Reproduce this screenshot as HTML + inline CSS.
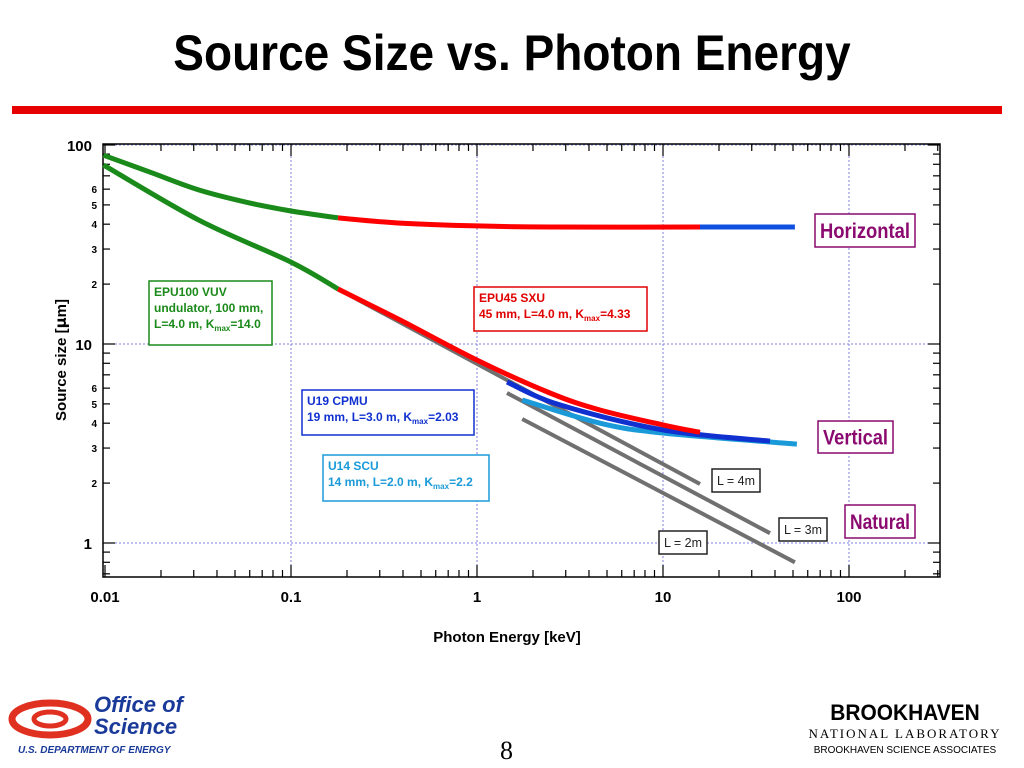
<!DOCTYPE html>
<html><head><meta charset="utf-8">
<style>
body{margin:0;width:1024px;height:768px;background:#fff;overflow:hidden;font-family:"Liberation Sans",sans-serif;position:relative}
.title{position:absolute;left:0;width:1024px;top:24px;text-align:center;font-weight:bold;font-size:50px;color:#000;transform:scaleX(0.92);transform-origin:512px 0}
.bar{position:absolute;left:12px;top:106px;width:990px;height:8px;background:#e60000}
</style></head><body>
<div class="title">Source Size vs. Photon Energy</div>
<div class="bar"></div>
<svg id="chart" width="1024" height="768" style="position:absolute;left:0;top:0"></svg>
<script>
const horizGreen=[[0.0098,88.9],[0.0175,73],[0.032,59.4],[0.0606,51],[0.1,46.6],[0.179,43]];
const horizRed=[[0.179,43],[0.386,40.5],[1,39.2],[2.47,38.7],[15.8,38.7]];
const horizBlue=[[15.8,38.7],[51.2,38.7]];
const vertGreen=[[0.0098,79.4],[0.032,41.9],[0.1,25.8],[0.179,18.9]];
const vertRed=[[0.179,18.9],[0.386,13.2],[1,8.3],[2.47,5.67],[4.58,4.66],[10,3.92],[15.8,3.6]];
const vertBlue=[[1.45,6.44],[2.79,4.94],[10,3.7],[37.6,3.25]];
const vertCyan=[[1.75,5.23],[4.58,4.0],[10,3.57],[52.5,3.14]];
const nat4=[[0.179,18.9],[15.8,1.98]];
const nat3=[[1.45,5.67],[37.6,1.12]];
const nat2=[[1.75,4.2],[51.2,0.8]];
const xTicks=[0.01,0.1,1,10,100];
const xTickLabels=["0.01","0.1","1","10","100"];
const yMajor=[1,10,100];
const yMinorLabels=[2,3,4,5,6];

const svg=document.getElementById('chart');
const NS='http://www.w3.org/2000/svg';
const X0=103,X1=940,Y0=144,Y1=577;
function xs(e){return 291+186*(Math.log10(e)+1);}
function ys(s){return 543-199*Math.log10(s);}
function mk(t,a,p){const el=document.createElementNS(NS,t);for(const k in a)el.setAttribute(k,a[k]);(p||svg).appendChild(el);return el;}

xTicks.forEach(v=>{const x=xs(v);if(x>X0+2){const g=mk('line',{x1:x,x2:x,y1:Y0,y2:Y1,stroke:'#8080e0','stroke-dasharray':'2,2','stroke-width':1});

}});
yMajor.forEach(v=>{const y=ys(v);const g=mk('line',{x1:X0,x2:X1,y1:y,y2:y,stroke:'#8080e0','stroke-dasharray':'2,2','stroke-width':1});

});
const fr=mk('rect',{x:X0,y:Y0,width:X1-X0,height:Y1-Y0,fill:'none',stroke:'#000','stroke-width':1.5});


for(let d=-2;d<=2;d++){for(let m=1;m<10;m++){const v=m*Math.pow(10,d);const x=xs(v);if(x<X0||x>X1)continue;const L=m==1?12:7;
mk('line',{x1:x,x2:x,y1:Y1,y2:Y1-L,stroke:'#000','stroke-width':1.2});mk('line',{x1:x,x2:x,y1:Y0,y2:Y0+L,stroke:'#000','stroke-width':1.2});}}
for(let d=-1;d<=2;d++){for(let m=1;m<10;m++){const v=m*Math.pow(10,d);const y=ys(v);if(y<Y0-1||y>Y1)continue;const L=m==1?12:7;
mk('line',{x1:X0,x2:X0+L,y1:y,y2:y,stroke:'#000','stroke-width':1.2});mk('line',{x1:X1,x2:X1-L,y1:y,y2:y,stroke:'#000','stroke-width':1.2});}}
xTicks.forEach((v,i)=>{const t=mk('text',{x:xs(v),y:602,'text-anchor':'middle','font-size':15,'font-weight':'bold'});t.textContent=xTickLabels[i];

});
yMajor.forEach(v=>{const t=mk('text',{x:92,y:ys(v)+6,'text-anchor':'end','font-size':15,'font-weight':'bold'});t.textContent=String(v);

});
[1,10].forEach(d=>yMinorLabels.forEach(m=>{const t=mk('text',{x:97,y:ys(m*d)+4,'text-anchor':'end','font-size':10,'font-weight':'bold'});t.textContent=String(m);

}));
const xt=mk('text',{x:507,y:642,'text-anchor':'middle','font-size':15,'font-weight':'bold'});xt.textContent='Photon Energy [keV]';


const yt=mk('text',{x:0,y:0,'text-anchor':'middle','font-size':15,'font-weight':'bold',transform:'translate(66,360) rotate(-90)'});yt.innerHTML='Source size [<tspan font-family="DejaVu Sans">μ</tspan>m]';



function curve(data,color,w,name){const P=data.map(p=>[xs(p[0]),ys(p[1])]);let d='M'+P[0][0].toFixed(1)+','+P[0][1].toFixed(1);
for(let i=0;i<P.length-1;i++){const p0=P[Math.max(0,i-1)],p1=P[i],p2=P[i+1],p3=P[Math.min(P.length-1,i+2)];
const c1=[p1[0]+(p2[0]-p0[0])/6,p1[1]+(p2[1]-p0[1])/6],c2=[p2[0]-(p3[0]-p1[0])/6,p2[1]-(p3[1]-p1[1])/6];
d+='C'+c1.map(v=>v.toFixed(1)).join(',')+' '+c2.map(v=>v.toFixed(1)).join(',')+' '+p2.map(v=>v.toFixed(1)).join(',');}
const el=mk('path',{d:d,fill:'none',stroke:color,'stroke-width':w,'stroke-linecap':'butt','stroke-linejoin':'round'});

}
curve(nat4,'#707070',4,'natural-l4m-line');
curve(nat3,'#707070',4,'natural-l3m-line');
curve(nat2,'#707070',4,'natural-l2m-line');
curve(vertCyan,'#1a9ad8',5,'u14-vertical-curve');
curve(vertBlue,'#1030d0',5,'u19-vertical-curve');
curve(horizGreen,'#1a8a1a',5,'epu100-horizontal-curve');
curve(horizRed,'#ff0000',5,'epu45-horizontal-curve');
curve(horizBlue,'#1050e0',5,'u19-horizontal-curve');
curve(vertGreen,'#1a8a1a',5,'epu100-vertical-curve');
curve(vertRed,'#ff0000',5,'epu45-vertical-curve');

function box(x,y,w,h,color,lines,fs,name,sw){const g=mk('g',{});


mk('rect',{x:x,y:y,width:w,height:h,fill:'#fff',stroke:color,'stroke-width':sw||1.5},g);
lines.forEach((l,i)=>{const t=mk('text',{x:x+5,y:y+fs+3+i*(fs+4),'font-size':fs,'font-weight':'bold',fill:color},g);t.innerHTML=l;});}
const K='K<tspan font-size="8" dy="3">max</tspan><tspan dy="-3">';
box(149,281,123,64,'#1a8a1a',['EPU100 VUV','undulator, 100 mm,','L=4.0 m, '+K+'=14.0</tspan>'],12,'epu100-label');
box(474,287,173,44,'#e00000',['EPU45 SXU','45 mm, L=4.0 m, '+K+'=4.33</tspan>'],12,'epu45-label');
box(302,390,172,45,'#1030d0',['U19 CPMU','19 mm, L=3.0 m, '+K+'=2.03</tspan>'],12,'u19-label');
box(323,455,166,46,'#1a9ad8',['U14 SCU','14 mm, L=2.0 m, '+K+'=2.2</tspan>'],12,'u14-label');
function tag(x,y,w,h,txt,color,fs,name){const g=mk('g',{});


mk('rect',{x:x,y:y,width:w,height:h,fill:'#fff',stroke:color,'stroke-width':1.5},g);
const t=mk('text',{x:x+w/2,y:y+h/2+fs*0.36,'text-anchor':'middle','font-size':fs,'font-weight':fs>15?'bold':'normal',fill:color,textLength:w-10,lengthAdjust:'spacingAndGlyphs'},g);t.textContent=txt;}
tag(815,214,100,33,'Horizontal','#8a0a70',21,'horizontal-label');
tag(818,421,75,32,'Vertical','#8a0a70',21,'vertical-label');
tag(845,505,70,33,'Natural','#8a0a70',21,'natural-label');
tag(712,469,48,23,'L = 4m','#222',13,'l4m-label');
tag(779,518,48,23,'L = 3m','#222',13,'l3m-label');
tag(659,531,48,23,'L = 2m','#222',13,'l2m-label');
</script>
<div style="position:absolute;left:8px;top:690px;width:210px;height:70px">
<svg width="90" height="50" style="position:absolute;left:0;top:4px"><ellipse cx="42" cy="25" rx="38" ry="16" fill="none" stroke="#e03020" stroke-width="7"/><ellipse cx="42" cy="25" rx="16" ry="7" fill="none" stroke="#e03020" stroke-width="5"/></svg>
<div style="position:absolute;left:86px;top:4px;font-weight:bold;font-style:italic;font-size:22px;color:#1a3a9a;line-height:22px">Office of<br>Science</div>
<div style="position:absolute;left:10px;top:55px;font-weight:bold;font-style:italic;font-size:10px;color:#1a3a9a">U.S. DEPARTMENT OF ENERGY</div>
</div>
<div style="position:absolute;left:500px;top:736px;font-family:'Liberation Serif',serif;font-size:26px">8</div>
<div style="position:absolute;left:800px;top:700px;width:210px;text-align:center">
<div style="font-family:'Liberation Sans',sans-serif;font-weight:bold;font-size:22px;transform:scaleX(0.95)">BROOKHAVEN</div>
<div style="font-family:'Liberation Serif',serif;font-size:13px;letter-spacing:2px">NATIONAL LABORATORY</div>
<div style="font-size:10px;margin-top:3px">BROOKHAVEN SCIENCE ASSOCIATES</div>
</div>
</body></html>
